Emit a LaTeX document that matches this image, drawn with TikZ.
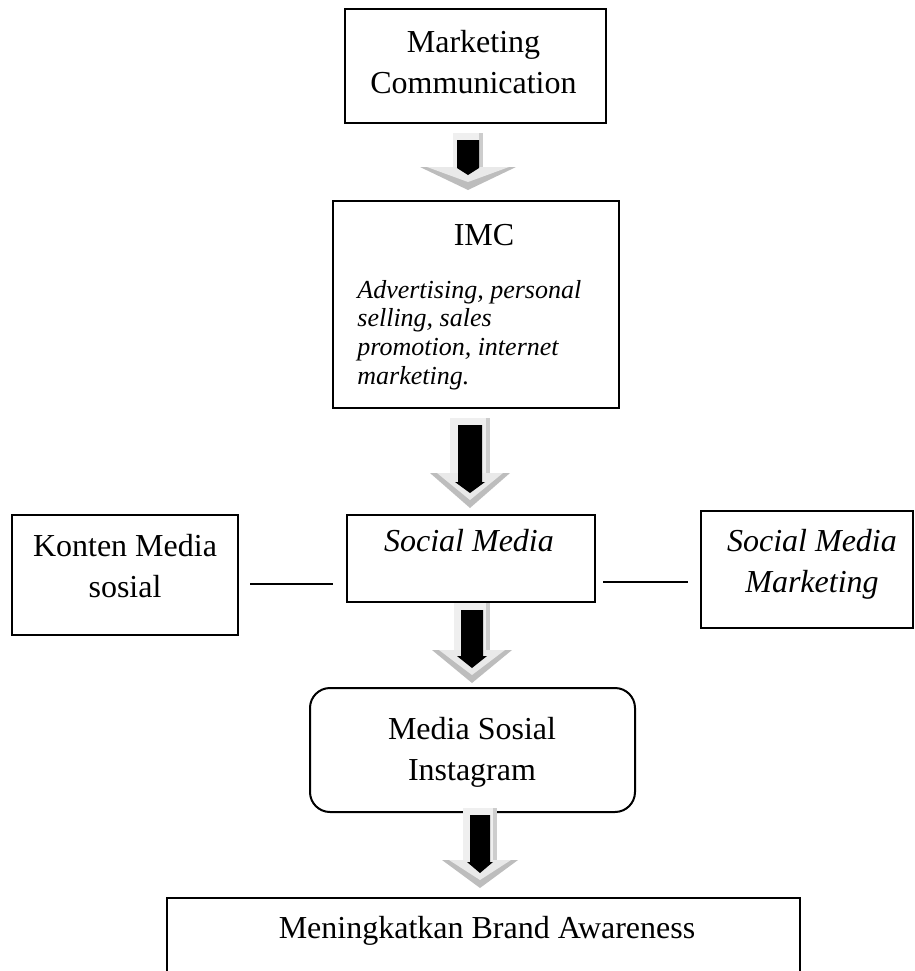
\documentclass[tikz,border=0pt]{standalone}
\usepackage{fontspec}
\setmainfont{Liberation Serif}
\begin{document}
\tikzset{
  boxline/.style={draw=black, line width=1pt, fill=white, inner sep=0pt},
  txt/.style={font=\fontsize{16}{20.5}\selectfont, align=center, inner sep=0pt},
  listtxt/.style={font=\fontsize{13}{14.3}\selectfont\itshape, align=left, inner sep=0pt},
  link/.style={draw=black, line width=0.8pt},
}
\definecolor{gshaft}{HTML}{EFEFEF}
\definecolor{gedge}{HTML}{CDCDCD}
\definecolor{ghead}{HTML}{BDBDBD}
\definecolor{glight}{HTML}{E9E9E9}
% block arrow: #1 start coordinate, #2 length, #3 shaft half width,
% #4 head half width, #5 head length, #6 black shaft half width,
% #7 black head half width, #8 black head length
\newcommand\flowarrow[8]{%
  \begin{scope}[shift={(#1)}]
    \pgfmathsetmacro\hy{#2-#5}
    \pgfmathsetmacro\by{#2-15-#8}
    \fill[gshaft] (-#3,0) rectangle (#3,\hy);
    \fill[gedge] (#3-4,0) rectangle (#3,\hy);
    \fill[ghead] (-#4,\hy) -- (#4,\hy) -- (0,#2) -- cycle;
    \fill[glight] (-#4+7,\hy) -- (#4-7,\hy) -- (0,#2-8) -- cycle;
    \fill[black] (-#6,7) -- (#6,7) -- (#6,\by) -- (#7,\by) -- (0,#2-15)
      -- (-#7,\by) -- (-#6,\by) -- cycle;
  \end{scope}}
\begin{tikzpicture}[x=0.5pt, y=-0.5pt]
\useasboundingbox (0,0) rectangle (915,971);

% boxes
\node[boxline, minimum width=130.5pt, minimum height=57pt] (mc) at (475.5,66) {};
\node[boxline, minimum width=143pt, minimum height=103.5pt] (imc) at (476,304.5) {};
\node[boxline, minimum width=124pt, minimum height=43.5pt] (sm) at (471,558.5) {};
\node[boxline, minimum width=113pt, minimum height=60pt] (kms) at (125,575) {};
\node[boxline, minimum width=106pt, minimum height=58.5pt] (smm) at (807,569.5) {};
\node[boxline, rounded corners=10pt, minimum width=162.5pt, minimum height=62pt] (msi) at (472.5,750) {};
\node[boxline, minimum width=316.5pt, minimum height=52pt] (mba) at (483.5,950) {};

% texts
\node[txt, anchor=base] (t1) at (473.5,93) {Marketing\\Communication};
\node[txt, anchor=base] (t2) at (484,245) {IMC};
\node[listtxt, anchor=west] (t3) at (357,335) {Advertising, personal\\selling, sales\\promotion, internet\\marketing.};
\node[txt, anchor=base, font=\fontsize{16}{20.5}\selectfont\itshape] (t4) at (469,551) {Social Media};
\node[txt, anchor=base] (t5) at (125,597) {Konten Media\\sosial};
\node[txt, anchor=base, font=\fontsize{16}{20.5}\selectfont\itshape] (t6) at (812,592) {Social Media\\Marketing};
\node[txt, anchor=base] (t7) at (472,780) {Media Sosial\\Instagram};
\node[txt, anchor=base] (t8) at (487,938) {Meningkatkan Brand Awareness};

% side links
\coordinate (l1) at (250,584);
\coordinate (l2) at (333,584);
\coordinate (r1) at (603,582);
\coordinate (r2) at (688,582);
\draw[link] (l1) -- (l2);
\draw[link] (r1) -- (r2);

% block arrows between the levels
\coordinate (a1) at (468,133);
\coordinate (a2) at (470,418);
\coordinate (a3) at (472,603);
\coordinate (a4) at (480,808);
\flowarrow{a1}{57}{15}{48}{23}{11}{11}{7}
\flowarrow{a2}{90}{20}{40}{35}{12}{15}{11}
\flowarrow{a3}{80}{18}{40}{33}{11}{15}{12}
\flowarrow{a4}{80}{17}{38}{28}{10}{13}{11}
\end{tikzpicture}
\end{document}
